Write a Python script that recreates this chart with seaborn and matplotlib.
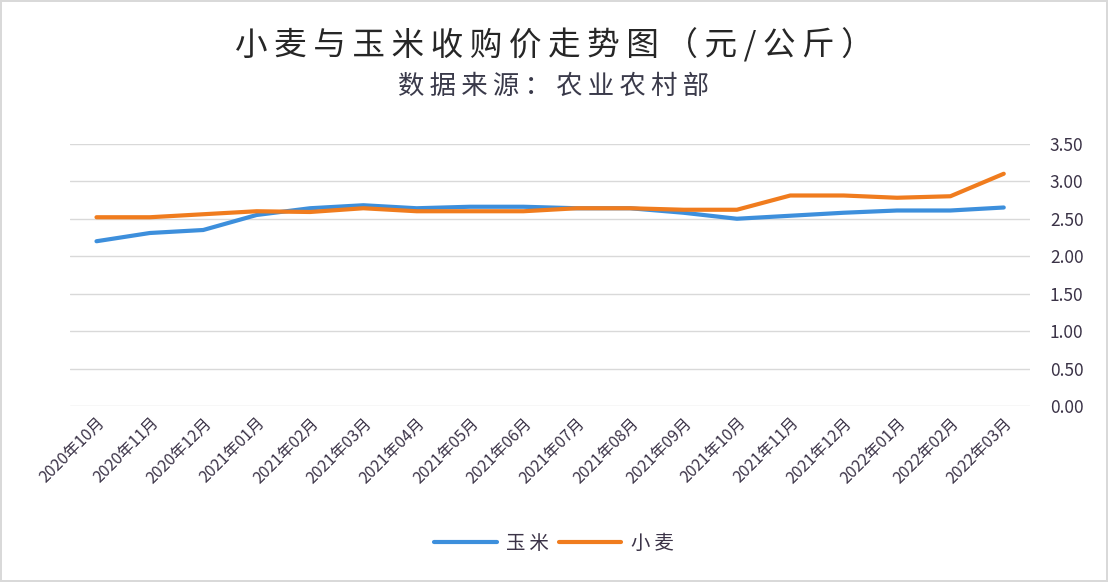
import numpy as np
import pandas as pd
import matplotlib
matplotlib.use("Agg")
import matplotlib.pyplot as plt
import seaborn as sns
from matplotlib.lines import Line2D

months = ["2020年10月", "2020年11月", "2020年12月", "2021年01月", "2021年02月", "2021年03月",
          "2021年04月", "2021年05月", "2021年06月", "2021年07月", "2021年08月", "2021年09月",
          "2021年10月", "2021年11月", "2021年12月", "2022年01月", "2022年02月", "2022年03月"]
corn = [2.20, 2.31, 2.35, 2.55, 2.64, 2.68, 2.64, 2.66, 2.66, 2.64, 2.64, 2.58,
        2.50, 2.54, 2.58, 2.61, 2.61, 2.65]
wheat = [2.52, 2.52, 2.56, 2.60, 2.59, 2.64, 2.60, 2.60, 2.60, 2.64, 2.64, 2.62,
         2.62, 2.81, 2.81, 2.78, 2.80, 3.10]
yticks = [0.0, 0.5, 1.0, 1.5, 2.0, 2.5, 3.0, 3.5]

df = pd.DataFrame({
    "月份": months * 2,
    "价格": corn + wheat,
    "品种": ["玉米"] * len(months) + ["小麦"] * len(months),
})
df["pos"] = list(range(len(months))) * 2

sns.set_style("white")
plt.rcParams["font.family"] = ["Noto Sans CJK SC", "DejaVu Sans"]
text_col = "#3b3347"

fig = plt.figure(figsize=(11.08, 5.82), dpi=100)
fig.patch.set_edgecolor("#d9d9d9")
fig.patch.set_linewidth(1.5)
ax = fig.add_axes([0.063, 0.302, 0.867, 0.451])

palette = {"玉米": "#3d8fdc", "小麦": "#f07c1e"}
sns.lineplot(data=df, x="pos", y="价格", hue="品种", palette=palette,
             linewidth=3, ax=ax, legend=False, sort=False)

ax.set_xlim(-0.5, len(months) - 0.5)
ax.set_ylim(0, 3.5)
ax.set_xticks(range(len(months)))
ax.set_xticklabels(months, rotation=45, ha="right", rotation_mode="anchor",
                   fontsize=11.5, color=text_col)
ax.yaxis.tick_right()
ax.set_yticks(yticks)
ax.set_yticklabels([f"{v:.2f}" for v in yticks], fontsize=12.5, color=text_col)
ax.tick_params(axis="y", length=0, pad=14)
ax.tick_params(axis="x", length=0, pad=6)
ax.grid(axis="y", color="#d9d9d9", linewidth=1)
for s in ax.spines.values():
    s.set_visible(False)
ax.set_xlabel("")
ax.set_ylabel("")

# spaced-out titles like the original
sp = "\u2009"
fig.text(0.5, 0.923, sp.join("小麦与玉米收购价走势图（元/公斤）"), ha="center", va="center",
         fontsize=23.5, color="#262626", fontweight="medium")
fig.text(0.5, 0.851, sp.join("数据来源：农业农村部"), ha="center", va="center",
         fontsize=19, color="#3a3a4a")

handles = [Line2D([], [], color=palette["玉米"], linewidth=3),
           Line2D([], [], color=palette["小麦"], linewidth=3)]
fig.legend(handles, [sp.join("玉米"), sp.join("小麦")], loc="center", bbox_to_anchor=(0.5, 0.067),
           ncol=2, frameon=False, fontsize=14, handlelength=3.2,
           columnspacing=0.5, handletextpad=0.5, labelcolor=text_col)

fig.savefig("out.png", dpi=100)
